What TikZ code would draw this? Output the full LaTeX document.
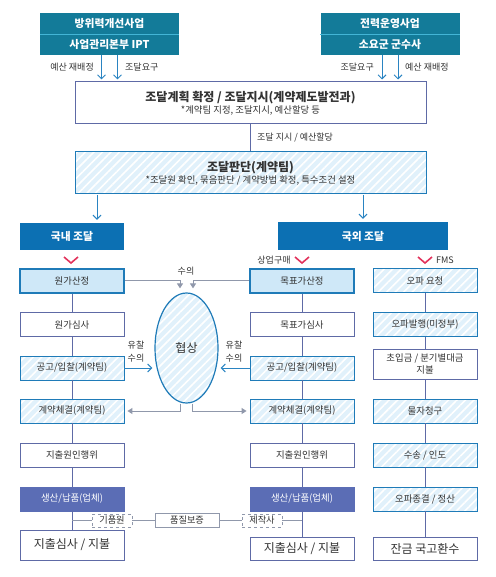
\documentclass[tikz,border=0pt]{standalone}
\usepackage{fontspec}
\setmainfont{Noto Sans CJK KR}
\usepackage{xcolor}
\usepackage{tikz}
\usetikzlibrary{shapes.geometric,arrows.meta,patterns.meta,calc}
\definecolor{hdrteal}{HTML}{137B99}
\definecolor{hdrline}{HTML}{43B5D6}
\definecolor{regblue}{HTML}{0C70B3}
\definecolor{bluebd}{HTML}{1F7BB8}
\definecolor{arrblue}{HTML}{2A84C2}
\definecolor{slate}{HTML}{5E6AA6}
\definecolor{lightfill}{HTML}{CFE8F8}
\definecolor{hatchbg}{HTML}{E1F1FB}
\definecolor{prodfill}{HTML}{5B6DB5}
\definecolor{grayln}{HTML}{9098AB}
\definecolor{chevred}{HTML}{E2335C}
\definecolor{txt}{HTML}{333333}
\tikzset{
  hdr/.style={rectangle,fill=hdrteal,text=white,minimum width=139pt,minimum height=21pt,
              inner sep=0pt,font=\fontsize{10.8}{12}\selectfont\bfseries},
  hatch/.style={preaction={fill=hatchbg},pattern={Lines[angle=45,distance=6pt,line width=1.6pt]},
                pattern color=white},
  mainbox/.style={rectangle,draw=slate,line width=1pt,fill=white,minimum width=351pt,
                  minimum height=42pt,align=center,inner sep=0pt,text=txt},
  region/.style={rectangle,fill=regblue,text=white,minimum height=27pt,inner sep=0pt,
                 font=\fontsize{10.8}{12}\selectfont\bfseries},
  stage/.style={rectangle,draw=slate,line width=0.9pt,fill=white,minimum width=104pt,
                minimum height=24pt,inner sep=0pt,align=center,text=txt,
                font=\fontsize{9.4}{12}\selectfont},
  stagehl/.style={stage,draw=bluebd,line width=2pt,fill=lightfill},
  stagehat/.style={stage,draw=bluebd,hatch},
  stageprod/.style={stage,draw=prodfill,fill=prodfill,text=white},
  stagebig/.style={stage,font=\fontsize{12}{14}\selectfont},
  tagbox/.style={rectangle,draw=grayln,line width=0.8pt,fill=white,minimum height=13pt,
                 inner sep=0pt,text=txt,font=\fontsize{9.2}{10}\selectfont},
  lbl/.style={inner sep=0pt,text=txt,font=\fontsize{9}{11}\selectfont,align=center},
  barr/.style={-{Straight Barb[length=4pt,width=8pt]},draw=arrblue,line width=1pt},
  garr/.style={-{Triangle[length=5pt,width=6pt]},draw=grayln,line width=1pt},
  vline/.style={draw=slate,line width=0.9pt},
  gline/.style={draw=grayln,line width=1.3pt},
  chev/.style={draw=chevred,line width=1.6pt},
}
\begin{document}
\begin{tikzpicture}[x=1pt,y=-1pt]
  \useasboundingbox (0,0) rectangle (495,577);
  % top sources
  \node[hdr] (hdrLa) at (109.5,23.5) {방위력개선사업};
  \node[hdr] (hdrLb) at (109.5,44.5) {사업관리본부 IPT};
  \node[hdr] (hdrRa) at (390,23.5) {전력운영사업};
  \node[hdr] (hdrRb) at (390,44.5) {소요군 군수사};
  \draw[hdrline,line width=0.8pt] (hdrLa.south west) -- (hdrLa.south east);
  \draw[hdrline,line width=0.8pt] (hdrRa.south west) -- (hdrRa.south east);

  \node[mainbox] (plan) at (250.5,103)
    {{\fontsize{12}{14}\selectfont\bfseries 조달계획 확정 / 조달지시(계약제도발전과)}\\[0pt]
     {\fontsize{9.4}{11}\selectfont *계약팀 지정, 조달지시, 예산할당 등}};
  \node[mainbox,draw=bluebd,hatch] (judge) at (250.5,173)
    {{\fontsize{12}{14}\selectfont\bfseries 조달판단(계약팀)}\\[0pt]
     {\fontsize{9.4}{11}\selectfont *조달원 확인, 묶음판단 / 계약방법 확정, 특수조건 설정}};

  \draw[barr] ([xshift=-8pt]hdrLb.south) -- ([xshift=-8pt,yshift=2pt]hdrLb.south |- plan.north);
  \draw[barr] ([xshift=8pt]hdrLb.south) -- ([xshift=8pt,yshift=2pt]hdrLb.south |- plan.north);
  \draw[barr] ([xshift=-8pt]hdrRb.south) -- ([xshift=-8pt,yshift=2pt]hdrRb.south |- plan.north);
  \draw[barr] ([xshift=8pt]hdrRb.south) -- ([xshift=8pt,yshift=2pt]hdrRb.south |- plan.north);
  \node[lbl,anchor=east] at (94,67) {예산 재배정};
  \node[lbl,anchor=west] at (125,67) {조달요구};
  \node[lbl,anchor=east] at (374,67) {조달요구};
  \node[lbl,anchor=west] at (405,67) {예산 재배정};

  \draw[vline] (plan.south) -- (judge.north);
  \node[lbl,anchor=west] at (257,138) {조달 지시 / 예산할당};

  % domestic / overseas
  \node[region,minimum width=104pt] (dom) at (72,236.5) {국내 조달};
  \node[region,minimum width=170pt,minimum height=28pt] (ovs) at (363,236) {국외 조달};
  \draw[barr] ([xshift=25pt]dom.north |- judge.south) -- ([xshift=25pt,yshift=3pt]dom.north);
  \draw[barr] (ovs.north |- judge.south) -- ([yshift=3pt]ovs.north);

  \draw[chev] (64,257) -- (71,263) -- (78,257);
  \draw[chev] (295,257) -- (302,263) -- (309,257);
  \draw[chev] (418,257) -- (425,263) -- (432,257);
  \node[lbl] at (274,260) {상업구매};
  \node[lbl] at (445,260) {FMS};

  % cost-based column
  \node[stagehl]   (costL) at (72,280.5) {원가산정};
  \node[stage]     (revL)  at (72,324.5) {원가심사};
  \node[stagehat]  (bidL)  at (72,368)   {공고/입찰(계약팀)};
  \node[stagehat]  (contL) at (72,411)   {계약체결(계약팀)};
  \node[stage]     (oblL)  at (72,455)   {지출원인행위};
  \node[stageprod] (prodL) at (72,499)   {생산/납품(업체)};
  \node[stagebig,minimum height=30pt] (payL) at (72,545) {지출심사 / 지불};

  % target-price column
  \node[stagehl]   (tgtM)  at (302,280.5) {목표가산정};
  \node[stage]     (revM)  at (302,324.5) {목표가심사};
  \node[stagehat]  (bidM)  at (302,368)   {공고/입찰(계약팀)};
  \node[stagehat]  (contM) at (302,411)   {계약체결(계약팀)};
  \node[stage]     (oblM)  at (302,455)   {지출원인행위};
  \node[stageprod] (prodM) at (302,499)   {생산/납품(업체)};
  \node[stagebig,minimum height=23pt] (payM) at (302,548.5) {지출심사 / 지불};

  % FMS column
  \node[stagehat] (reqF) at (425,280.5) {오파 요청};
  \node[stagehat] (ofrF) at (425,324.5) {오파발행(미정부)};
  \node[stage,minimum height=30pt] (advF) at (425,364) {초입금 / 분기별대금\\지불};
  \node[stagehat] (clmF) at (425,411)   {물자청구};
  \node[stagehat] (shpF) at (425,455)   {수송 / 인도};
  \node[stagehat] (clsF) at (425,499)   {오파종결 / 정산};
  \node[stagebig,minimum height=23pt] (retF) at (425,548.5) {잔금 국고환수};

  \foreach \a/\b in {costL/revL,revL/bidL,bidL/contL,contL/oblL,oblL/prodL,prodL/payL,
                     tgtM/revM,revM/bidM,bidM/contM,contM/oblM,oblM/prodM,prodM/payM,
                     reqF/ofrF,ofrF/advF,advF/clmF,clmF/shpF,shpF/clsF,clsF/retF}
    \draw[vline] (\a.south) -- (\b.north);

  % negotiation
  \node[ellipse,draw=bluebd,line width=1.2pt,hatch,minimum width=63pt,minimum height=110pt,
        inner sep=0pt,text=txt,font=\fontsize{12}{14}\selectfont] (nego) at (186.5,348) {협상};
  \draw[garr] (costL.east) -| ([xshift=-6.5pt,yshift=4pt]nego.north);
  \draw[garr] (tgtM.west) -| ([xshift=6.5pt,yshift=4pt]nego.north);
  \node[lbl] at (186,271) {수의};
  \draw[barr] (bidL.east) -- ([xshift=-2pt]bidL.east -| nego.west);
  \draw[barr] (bidM.west) -- ([xshift=2pt]bidM.west -| nego.east);
  \node[lbl,font=\fontsize{9}{12.5}\selectfont] at (136,351.5) {유찰\\수의};
  \node[lbl,font=\fontsize{9}{12.5}\selectfont] at (234,351.5) {유찰\\수의};
  \draw[garr] ([xshift=-6.5pt]nego.south) |- ([xshift=3pt]contL.east);
  \draw[garr] ([xshift=6pt]nego.south) |- ([xshift=-3pt]contM.west);

  % quality assurance
  \node[tagbox,dashed,minimum width=40pt] (qaL) at (112,520.5) {기품원};
  \node[tagbox,minimum width=64pt,minimum height=14pt] (qa) at (187,520.5) {품질보증};
  \node[tagbox,dashed,minimum width=40pt] (qaM) at (262,520.5) {제작사};
  \draw[gline] (qaL.west) -- (qaL.west -| prodL.south);
  \draw[gline] (qaL.east) -- (qa.west);
  \draw[gline] (qa.east) -- (qaM.west);
  \draw[gline] (qaM.east) -- (qaM.east -| prodM.south);
\end{tikzpicture}
\end{document}
